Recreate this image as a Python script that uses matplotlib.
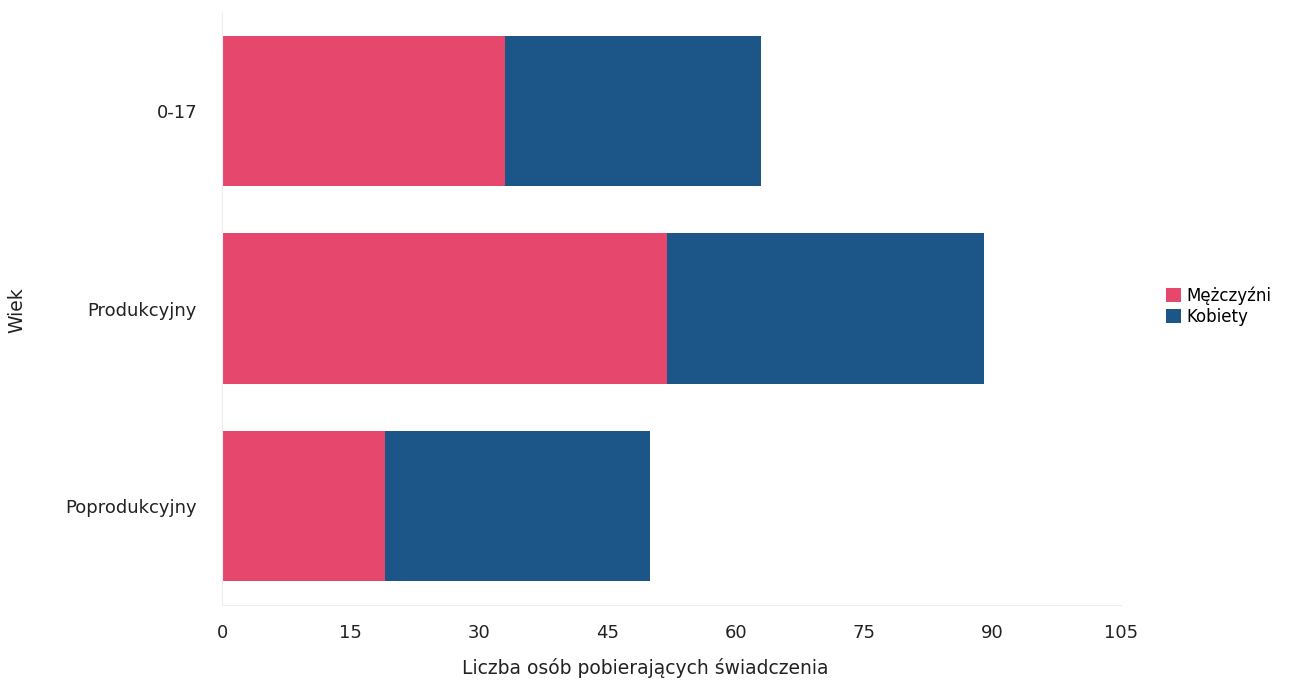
import matplotlib.pyplot as plt
import numpy as np

categories = ['0-17', 'Produkcyjny', 'Poprodukcyjny']
men = [33, 52, 19]
women = [30, 37, 31]
xticks = [0, 15, 30, 45, 60, 75, 90, 105]

pink = '#e5486c'
blue = '#1c5587'

fig = plt.figure(figsize=(12.94, 6.84), dpi=100)
ax = fig.add_axes([222 / 1294, 1 - 605 / 684, (1121 - 222) / 1294, (605 - 12) / 684])

y = np.arange(len(categories))
ax.barh(y, men, height=0.76, color=pink, label='Mężczyźni')
ax.barh(y, women, left=men, height=0.76, color=blue, label='Kobiety')

ax.set_xlim(0, 105)
ax.set_ylim(2.5, -0.5)
ax.set_xticks(xticks)
ax.set_yticks(y)
ax.set_yticklabels(categories)
ax.tick_params(length=0, labelsize=13, colors='#222222')
ax.tick_params(axis='x', pad=14)
ax.tick_params(axis='y', pad=18)

for s in ['top', 'right']:
    ax.spines[s].set_visible(False)
for s in ['left', 'bottom']:
    ax.spines[s].set_color('#eeeeee')

ax.set_xlabel('Liczba osób pobierających świadczenia', fontsize=13.5, color='#222222')
ax.set_ylabel('Wiek', fontsize=13.5, color='#222222')
ax.xaxis.set_label_coords((645 - 222) / (1121 - 222), -(668 - 605) / (605 - 12))
ax.yaxis.set_label_coords(-(222 - 17) / (1121 - 222), (605 - 310) / (605 - 12))
ax.xaxis.label.set_va('center')
ax.yaxis.label.set_va('center')

fig.legend(loc='center left', bbox_to_anchor=(1158 / 1294, 1 - 306 / 684), frameon=False,
           fontsize=12, handlelength=0.9, handleheight=0.9, handletextpad=0.3,
           labelspacing=0.15, borderpad=0)

plt.savefig('out.png')
